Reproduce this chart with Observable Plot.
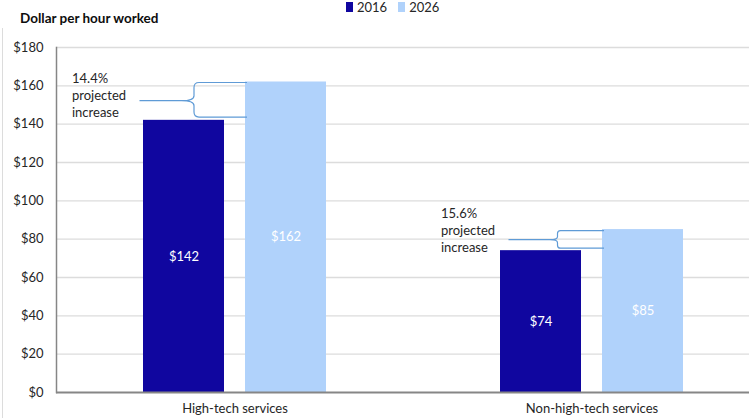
<!DOCTYPE html>
<html>
<head>
<meta charset="utf-8">
<script src="https://cdn.jsdelivr.net/npm/d3@7"></script>
<script src="https://cdn.jsdelivr.net/npm/@observablehq/plot@0.6"></script>
<style>
  body { margin: 0; background: #fff; font-family: Lato, "Open Sans", sans-serif; }
  #wrap { position: relative; width: 749px; height: 418px; overflow: hidden; background: #fff; }
  #legend { position: absolute; left: 346px; top: 0; height: 14px; display: flex; align-items: center; font-size: 13px; color: #262626; }
  #legend .item { display: flex; align-items: center; margin-right: 11px; }
  #legend .sw { display: inline-block; width: 7px; height: 10px; margin-right: 4px; }
  #title { position: absolute; left: 20px; top: 10px; font-weight: bold; font-size: 13.5px; color: #0d0d0d; }
  #chart { position: absolute; left: 0; top: 36px; }
  #edge { position: absolute; left: 2px; top: 28px; height: 390px; border-left: 1px solid #dcdcdc; }
</style>
</head>
<body>
<div id="wrap">
  <div id="legend"></div>
  <div id="title">Dollar per hour worked</div>
  <div id="edge"></div>
  <div id="chart"></div>
</div>
<script>
// ---- data ----
const categories = ["High-tech services", "Non-high-tech services"];
const years = ["2016", "2026"];
const values2016 = [142, 74];
const values2026 = [162, 85];
const increaseLabels = ["14.4%", "15.6%"];
const yTicks = [0, 20, 40, 60, 80, 100, 120, 140, 160, 180];

// ---- styles (not data) ----
const colors = ["#10069f", "#b0d2fb"];
const braceColor = "#5f9bd6";
const annotLayout = [
  {textDx: -112, textDy: -6.5, braceDx: 10.5, pointerDx: -44, r: 5, insetTop: 1, insetBottom: 2.8},
  {textDx: -100, textDy: -10.5, braceDx: 17, pointerDx: -32, r: 3, insetTop: 1.5, insetBottom: 2}
];

// legend
const legend = document.getElementById("legend");
years.forEach((yr, i) => {
  const item = document.createElement("span");
  item.className = "item";
  item.innerHTML = `<span class="sw" style="background:${colors[i]}"></span><span>${yr}</span>`;
  legend.appendChild(item);
});

const seriesValues = [values2016, values2026];
const rows = categories.flatMap((c, i) => years.map((yr, j) => ({category: c, year: yr, value: seriesValues[j][i]})));
const annots = categories.map((c, i) => ({
  category: c, from: values2016[i], to: values2026[i],
  mid: (values2016[i] + values2026[i]) / 2,
  label: increaseLabels[i] + "\nprojected\nincrease"
}));

function bandwidthOf(sx) {
  if (typeof sx.bandwidth === "function") return sx.bandwidth();
  if (typeof sx.bandwidth === "number") return sx.bandwidth;
  if (sx.scale && typeof sx.scale.bandwidth === "function") return sx.scale.bandwidth();
  return 0;
}

const annotMarks = annots.flatMap((a, k) => {
  const L = annotLayout[k];
  return [
    Plot.text([a], {
      fx: "category", x: () => "2016", y: "mid", text: "label",
      textAnchor: "start", lineAnchor: "middle", lineHeight: 1.33,
      dx: L.textDx, dy: L.textDy, fill: "#262626", fontSize: 13
    }),
    Plot.dot([a], {
      fx: "category", x: () => "2016", y: "mid", r: 0,
      render: (index, scales) => {
        if (!index.length) return null;
        const sx = scales.x, sy = scales.y;
        const bw = bandwidthOf(sx);
        const c16 = sx("2016") + bw / 2;
        const xR = sx("2026") + 2;
        const x0 = c16 + L.braceDx;
        const yTop = sy(a.to) + L.insetTop;
        const yBot = sy(a.from) - L.insetBottom;
        const yMid = sy(a.mid);
        const r = L.r;
        const n = r * 2.5;
        const d = `M${xR},${yTop} H${x0 + r} Q${x0},${yTop} ${x0},${yTop + r}`
          + ` V${yMid - r} Q${x0},${yMid} ${x0 - n},${yMid}`
          + ` Q${x0},${yMid} ${x0},${yMid + r}`
          + ` V${yBot - r} Q${x0},${yBot} ${x0 + r},${yBot} H${xR}`
          + ` M${c16 + L.pointerDx},${yMid} H${x0 - n}`;
        const g = d3.create("svg:g");
        g.append("path").attr("d", d).attr("fill", "none")
          .attr("stroke", braceColor).attr("stroke-width", 1.2);
        return g.node();
      }
    })
  ];
});

const chart = Plot.plot({
  width: 749,
  height: 382,
  marginTop: 11,
  marginBottom: 26,
  marginLeft: 55,
  marginRight: 0,
  style: {fontFamily: "Lato, 'Open Sans', sans-serif", fontSize: "13px", color: "#262626", background: "transparent", overflow: "hidden"},
  fx: {domain: categories, range: [55, 770], padding: 0, label: null},
  x: {domain: years, paddingInner: 0.206, paddingOuter: 0.853, axis: null},
  y: {domain: [0, 180], label: null},
  color: {domain: years, range: colors},
  marks: [
    Plot.ruleY(yTicks.filter(t => t > 0), {stroke: "#dcdcdc", strokeWidth: 1.3}),
    Plot.barY(rows, {fx: "category", x: "year", y: "value", fill: "year"}),
    Plot.text(rows, {fx: "category", x: "year", y: d => d.value / 2, text: d => "$" + d.value, fill: "white", fontSize: 13}),
    ...annotMarks,
    Plot.ruleY([0], {stroke: "#868686", strokeWidth: 2}),
    Plot.frame({anchor: "left", facetAnchor: "left", stroke: "#868686", strokeWidth: 1.5}),
    Plot.axisY({ticks: yTicks, tickFormat: d => "$" + d, tickSize: 0, tickPadding: 13, label: null, fontSize: 13}),
    Plot.axisFx({anchor: "bottom", tickSize: 0, tickPadding: 11, label: null, fontSize: 13})
  ]
});
document.getElementById("chart").appendChild(chart);
</script>
</body>
</html>
